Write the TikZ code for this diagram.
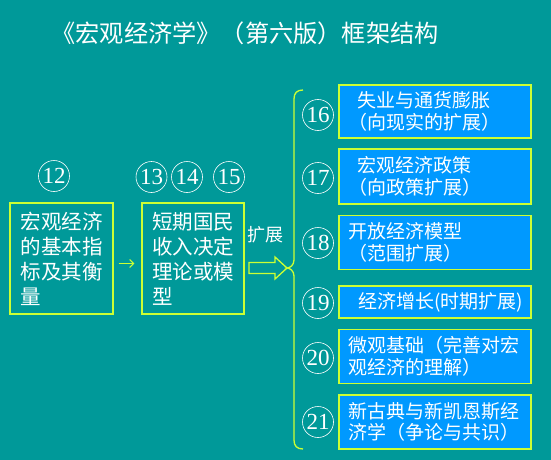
\documentclass[tikz,border=0pt]{standalone}
\usepackage{fontspec}
\setmainfont{Liberation Serif}
\newfontfamily\cjk{Noto Sans CJK SC}
\usetikzlibrary{arrows.meta}
\definecolor{bg}{RGB}{0,153,153}
\definecolor{bluebox}{RGB}{0,153,255}
\definecolor{lime}{RGB}{204,255,51}
\begin{document}
\begin{tikzpicture}[x=1pt,y=-1pt,
  num/.style={circle,draw=white,line width=0.6pt,text=white,minimum size=31pt,inner sep=0pt,font=\fontsize{23}{23}\selectfont},
  leftbox/.style={draw=lime,line width=1.3pt,text=white,align=left,text width=82pt,inner xsep=10.5pt,inner ysep=0pt,minimum height=111pt,font=\cjk\fontsize{20.5}{25}\selectfont},
  rightbox/.style={draw=lime,fill=bluebox,line width=1.3pt,text=white,align=left,text width=174pt,inner xsep=9pt,inner ysep=0pt,font=\cjk\fontsize{19}{21.5}\selectfont},
  titletext/.style={text=white,inner sep=0pt,font=\cjk\fontsize{24.2}{26}\selectfont},
  label/.style={text=white,inner sep=0pt,font=\cjk\fontsize{18}{20}\selectfont},
  smallarr/.style={draw=lime,line width=1pt,-{Straight Barb[length=4pt,width=8pt]}},
  limeline/.style={draw=lime,line width=1.3pt}
]
\fill[bg] (0,0) rectangle (551,460);
\useasboundingbox (0,0) rectangle (551,460);

\node[titletext] (title) at (245,33) {《宏观经济学》（第六版）框架结构};

\node[num] (n12) at (54,176) {12};
\node[num] (n13) at (151.5,177) {13};
\node[num] (n14) at (187,177) {14};
\node[num] (n15) at (229,177) {15};

\node[leftbox] (b1) at (61.5,258.5) {宏观经济\\的基本指\\标及其衡\\量};
\node[leftbox,inner xsep=10pt] (b2) at (193,258.5) {短期国民\\收入决定\\理论或模\\型};

\draw[smallarr] ([xshift=5pt,yshift=-5pt]b1.east) -- ([xshift=-7pt,yshift=-5pt]b2.west);

\node[label] (ext) at (265,235) {扩展};

\coordinate (tip) at (287,268);
\draw[limeline] (tip) -- ++(-12,-11) -- ++(0,5.5) -- ++(-26,0) -- ++(0,11) -- ++(26,0) -- ++(0,5.5) -- cycle;

\draw[limeline] (303,90) .. controls (297,90) and (294,93) .. (294,99)
  -- (294,260) .. controls (294,265) and (290,268) .. (tip)
  .. controls (290,268) and (294,271) .. (294,276)
  -- (294,440) .. controls (294,446) and (297,449) .. (303,449);

\node[num] (n16) at (318,115) {16};
\node[num] (n17) at (318,178) {17};
\node[num] (n18) at (318,243) {18};
\node[num] (n19) at (318,303) {19};
\node[num] (n20) at (318,358) {20};
\node[num] (n21) at (318,422) {21};

\node[rightbox,minimum height=53pt] (r16) at (435,111.5) {\hspace*{9pt}失业与通货膨胀\\（向现实的扩展）};
\node[rightbox,minimum height=55pt] (r17) at (435,176.5) {\hspace*{9pt}宏观经济政策\\（向政策扩展）};
\node[rightbox,minimum height=54pt] (r18) at (435,242.5) {开放经济模型\\（范围扩展）};
\node[rightbox,minimum height=32pt] (r19) at (435,302) {\hspace*{10pt}经济增长(时期扩展)};
\node[rightbox,minimum height=54pt] (r20) at (435,356.5) {微观基础（完善对宏\\观经济的理解）};
\node[rightbox,minimum height=54pt] (r21) at (435,422) {新古典与新凯恩斯经\\济学（争论与共识）};
\end{tikzpicture}
\end{document}
